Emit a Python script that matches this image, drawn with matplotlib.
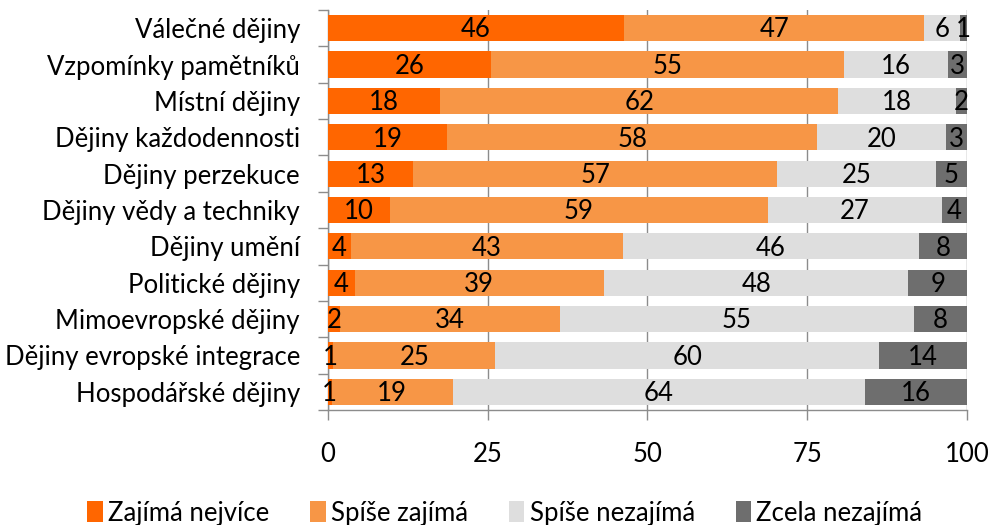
import matplotlib
matplotlib.use("Agg")
import matplotlib.pyplot as plt
import numpy as np
from matplotlib.patches import Patch

categories = ["Válečné dějiny", "Vzpomínky pamětníků", "Místní dějiny", "Dějiny každodennosti",
              "Dějiny perzekuce", "Dějiny vědy a techniky", "Dějiny umění", "Politické dějiny",
              "Mimoevropské dějiny", "Dějiny evropské integrace", "Hospodářské dějiny"]
series_names = ["Zajímá nejvíce", "Spíše zajímá", "Spíše nezajímá", "Zcela nezajímá"]
zajima_nejvice = [46.4, 25.6, 17.6, 18.7, 13.4, 9.8, 3.6, 4.2, 1.9, 0.9, 0.6]
spise_zajima = [46.9, 55.2, 62.2, 57.8, 56.9, 59.0, 42.6, 39.0, 34.4, 25.3, 19.0]
spise_nezajima = [5.6, 16.2, 18.4, 20.2, 24.8, 27.2, 46.2, 47.6, 55.4, 60.0, 64.4]
zcela_nezajima = [1.1, 3.0, 1.8, 3.3, 4.9, 4.0, 7.6, 9.2, 8.3, 13.8, 16.0]
x_ticks = [0, 25, 50, 75, 100]

colors = ["#FF6600", "#F79646", "#DEDEDE", "#6E6E6E"]
font = ["Lato", "DejaVu Sans"]
plt.rcParams["font.family"] = font
FS = 18.5

fig = plt.figure(figsize=(9.9, 5.25), dpi=100)
ax = fig.add_axes([0.331, 0.219, 0.646, 0.762])

series = [zajima_nejvice, spise_zajima, spise_nezajima, zcela_nezajima]
y = np.arange(len(categories))
left = np.zeros(len(categories))
for vals, col in zip(series, colors):
    vals = np.array(vals)
    ax.barh(y, vals, left=left, height=0.72, color=col, zorder=3)
    for yi, l, v in zip(y, left, vals):
        ax.text(l + v / 2, yi + 0.05, f"{v:.0f}", ha="center", va="center",
                fontsize=FS, color="black", zorder=4)
    left = left + vals

ax.set_xlim(0, 100)
ax.set_ylim(len(categories) - 0.5, -0.5)
ax.set_xticks(x_ticks)
ax.set_xticklabels([str(t) for t in x_ticks], fontsize=FS)
ax.set_yticks(y)
ax.set_yticklabels(categories, fontsize=FS)
ax.set_yticks(np.arange(len(categories) + 1) - 0.5, minor=True)
ax.tick_params(axis="y", which="major", length=0, pad=20)
ax.tick_params(axis="y", which="minor", length=7, color="#8C8C8C", width=1)
ax.tick_params(axis="x", which="major", length=7, color="#8C8C8C", width=1, pad=16)
ax.grid(axis="x", color="#8C8C8C", linewidth=1, zorder=0)
for s in ["top", "right"]:
    ax.spines[s].set_visible(False)
for s in ["left", "bottom"]:
    ax.spines[s].set_color("#8C8C8C")
    ax.spines[s].set_linewidth(1)

handles = [Patch(facecolor=c, edgecolor="none") for c in colors]
fig.legend(handles, series_names, loc="lower center", bbox_to_anchor=(0.51, -0.045), ncol=4,
           frameon=False, fontsize=FS, handlelength=0.6, handleheight=0.9,
           handletextpad=0.2, columnspacing=1.6)

fig.savefig("out.png", dpi=100)
